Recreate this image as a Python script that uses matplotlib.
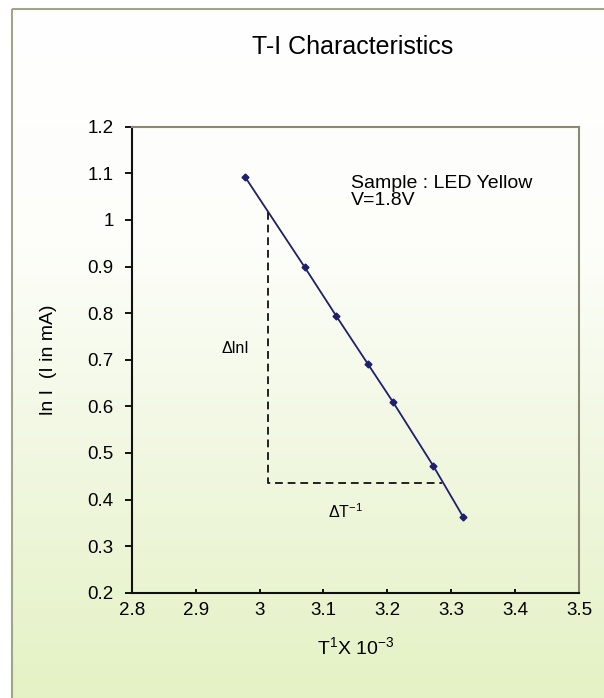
import numpy as np
import matplotlib
matplotlib.use("Agg")
import matplotlib.pyplot as plt
from matplotlib.colors import LinearSegmentedColormap
from matplotlib.patches import Rectangle

plt.rcParams['font.family'] = ['Liberation Sans', 'DejaVu Sans']
plt.rcParams['mathtext.fontset'] = 'custom'
plt.rcParams['mathtext.rm'] = 'Liberation Sans'
plt.rcParams['mathtext.it'] = 'Liberation Sans'

# datos
inv_T = [2.978, 3.071, 3.120, 3.170, 3.209, 3.272, 3.319]
ln_I = [1.091, 0.898, 0.794, 0.690, 0.609, 0.472, 0.362]

# triangulo de la pendiente
delta_x = [3.014, 3.014, 3.285]
delta_y = [1.017, 0.435, 0.435]

x_ticks = [2.8, 2.9, 3.0, 3.1, 3.2, 3.3, 3.4, 3.5]
x_tick_labels = ["2.8", "2.9", "3", "3.1", "3.2", "3.3", "3.4", "3.5"]
y_ticks = [0.2, 0.3, 0.4, 0.5, 0.6, 0.7, 0.8, 0.9, 1.0, 1.1, 1.2]
y_tick_labels = ["0.2", "0.3", "0.4", "0.5", "0.6", "0.7", "0.8", "0.9", "1", "1.1", "1.2"]

W, H = 604, 698
fig = plt.figure(figsize=(W / 100, H / 100), dpi=100)
fig.patch.set_facecolor("white")

# fondo degradado (blanco arriba, verde claro abajo)
bg = fig.add_axes([0, 0, 1, 1], zorder=0)
bg.set_xlim(0, W)
bg.set_ylim(H, 0)
bg.axis("off")
cmap = LinearSegmentedColormap.from_list("g", ["#ffffff", "#fdfefa", "#f0f7df", "#e4f2c4"])
grad = np.linspace(0, 1, 256).reshape(-1, 1)
bg.imshow(grad, cmap=cmap, extent=[12, W + 5, H + 5, 9], aspect="auto")
bg.add_patch(Rectangle((12, 9), W, H, fill=False, edgecolor="#a3a38c", linewidth=1.5))

ax = fig.add_axes([131.7 / W, 1 - 592.7 / H, (579 - 131.7) / W, (592.7 - 126.7) / H], zorder=1)
ax.patch.set_alpha(0)

ax.plot(inv_T, ln_I, color="#1f1f6b", linewidth=1.3, marker="D", markersize=3.5)
ax.plot(delta_x, delta_y, color="#222222", linestyle=(0, (4, 2.5)), linewidth=1.4)

ax.text(2.963, 0.725, "ΔlnI", fontsize=11.5, ha="center", va="center")
ax.text(3.134, 0.373, "ΔT$^{\\mathregular{-1}}$", fontsize=11.5, ha="center", va="center")
ax.text(3.143, 1.097, "Sample : LED Yellow\nV=1.8V", fontsize=14, ha="left", va="top", linespacing=1.05)

ax.set_xlim(2.8, 3.5)
ax.set_ylim(0.2, 1.2)
ax.set_xticks(x_ticks)
ax.set_xticklabels(x_tick_labels)
ax.set_yticks(y_ticks)
ax.set_yticklabels(y_tick_labels)
ax.tick_params(axis="y", direction="out", length=5, width=1.3, labelsize=13.5, pad=8)
ax.tick_params(axis="x", direction="in", length=3, width=1.3, labelsize=13.5, pad=7)

for s in ["left", "bottom"]:
    ax.spines[s].set_color("#111111")
    ax.spines[s].set_linewidth(1.5)
for s in ["top", "right"]:
    ax.spines[s].set_color("#8a8a72")
    ax.spines[s].set_linewidth(1.5)

ax.set_ylabel("ln I  (I in mA)", fontsize=14, labelpad=22)
ax.set_xlabel("T$^{\\mathregular{1}}$X 10$^{\\mathregular{-3}}$", fontsize=14, labelpad=12)

fig.text(353 / W, 1 - 47 / H, "T-I Characteristics", fontsize=18, ha="center", va="center")

fig.savefig("out.png", dpi=100)
